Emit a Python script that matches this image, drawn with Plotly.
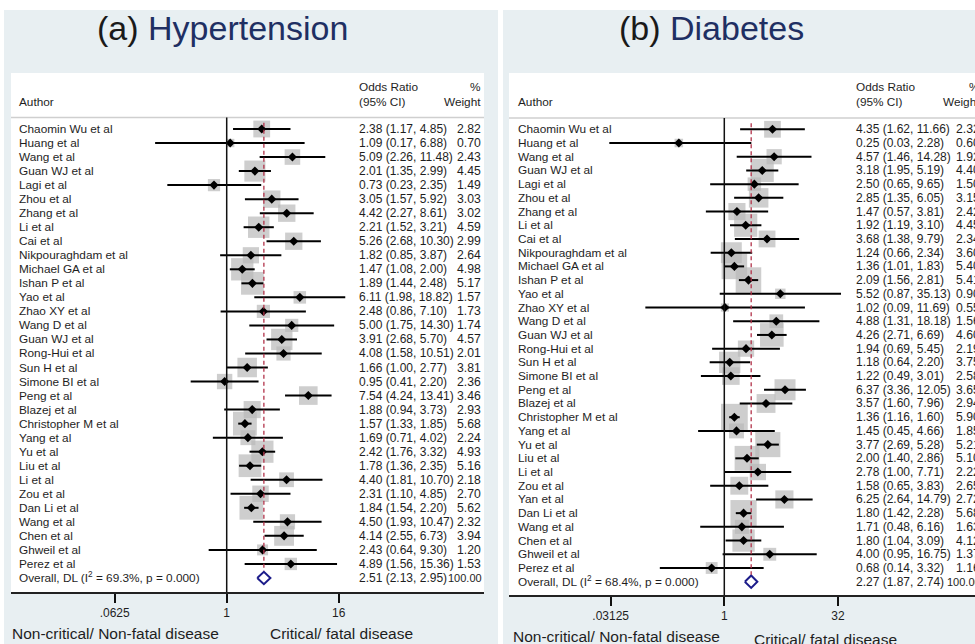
import plotly.graph_objects as go
import math

# ---------------- DATA ----------------
ht_authors = ["Chaomin Wu et al", "Huang et al", "Wang et al", "Guan WJ et al", "Lagi et al",
              "Zhou et al", "Zhang et al", "Li et al", "Cai et al", "Nikpouraghdam et al",
              "Michael GA et al", "Ishan P et al", "Yao et al", "Zhao XY et al", "Wang D et al",
              "Guan WJ et al", "Rong-Hui et al", "Sun H et al", "Simone BI et al", "Peng et al",
              "Blazej et al", "Christopher M et al", "Yang et al", "Yu et al", "Liu et al",
              "Li et al", "Zou et al", "Dan Li et al", "Wang et al", "Chen et al",
              "Ghweil et al", "Perez et al"]
ht_or = [2.38, 1.09, 5.09, 2.01, 0.73, 3.05, 4.42, 2.21, 5.26, 1.82, 1.47, 1.89, 6.11, 2.48, 5.00,
         3.91, 4.08, 1.66, 0.95, 7.54, 1.88, 1.57, 1.69, 2.42, 1.78, 4.40, 2.31, 1.84, 4.50, 4.14,
         2.43, 4.89]
ht_lo = [1.17, 0.17, 2.26, 1.35, 0.23, 1.57, 2.27, 1.52, 2.68, 0.85, 1.08, 1.44, 1.98, 0.86, 1.75,
         2.68, 1.58, 1.00, 0.41, 4.24, 0.94, 1.33, 0.71, 1.76, 1.36, 1.81, 1.10, 1.54, 1.93, 2.55,
         0.64, 1.56]
ht_hi = [4.85, 6.88, 11.48, 2.99, 2.35, 5.92, 8.61, 3.21, 10.30, 3.87, 2.00, 2.48, 18.82, 7.10, 14.30,
         5.70, 10.51, 2.77, 2.20, 13.41, 3.73, 1.85, 4.02, 3.32, 2.35, 10.70, 4.85, 2.20, 10.47, 6.73,
         9.30, 15.36]
ht_w = [2.82, 0.70, 2.43, 4.45, 1.49, 3.03, 3.02, 4.59, 2.99, 2.64, 4.98, 5.17, 1.57, 1.73, 1.74,
        4.57, 2.01, 3.81, 2.36, 3.46, 2.93, 5.68, 2.24, 4.93, 5.16, 2.18, 2.70, 5.62, 2.32, 3.94,
        1.20, 1.53]
ht_overall = {"label": "Overall, DL (I<sup>2</sup> = 69.3%, p = 0.000)", "or": 2.51, "lo": 2.13, "hi": 2.95}

dm_authors = ["Chaomin Wu et al", "Huang et al", "Wang et al", "Guan WJ et al", "Lagi et al",
              "Zhou et al", "Zhang et al", "Li et al", "Cai et al", "Nikpouraghdam et al",
              "Michael GA et al", "Ishan P et al", "Yao et al", "Zhao XY et al", "Wang D et al",
              "Guan WJ et al", "Rong-Hui et al", "Sun H et al", "Simone BI et al", "Peng et al",
              "Blazej et al", "Christopher M et al", "Yang et al", "Yu et al", "Liu et al",
              "Li et al", "Zou et al", "Yan et al", "Dan Li et al", "Wang et al", "Chen et al",
              "Ghweil et al", "Perez et al"]
dm_or = [4.35, 0.25, 4.57, 3.18, 2.50, 2.85, 1.47, 1.92, 3.68, 1.24, 1.36, 2.09, 5.52, 1.02, 4.88,
         4.26, 1.94, 1.18, 1.22, 6.37, 3.57, 1.36, 1.45, 3.77, 2.00, 2.78, 1.58, 6.25, 1.80, 1.71,
         1.80, 4.00, 0.68]
dm_lo = [1.62, 0.03, 1.46, 1.95, 0.65, 1.35, 0.57, 1.19, 1.38, 0.66, 1.01, 1.56, 0.87, 0.09, 1.31,
         2.71, 0.69, 0.64, 0.49, 3.36, 1.60, 1.16, 0.45, 2.69, 1.40, 1.00, 0.65, 2.64, 1.42, 0.48,
         1.04, 0.95, 0.14]
dm_hi = [11.66, 2.28, 14.28, 5.19, 9.65, 6.05, 3.81, 3.10, 9.79, 2.34, 1.83, 2.81, 35.13, 11.69, 18.18,
         6.69, 5.45, 2.20, 3.01, 12.05, 7.96, 1.60, 4.66, 5.28, 2.86, 7.71, 3.83, 14.79, 2.28, 6.16,
         3.09, 16.75, 3.32]
dm_w = [2.32, 0.60, 1.92, 4.40, 1.50, 3.15, 2.42, 4.45, 2.34, 3.60, 5.40, 5.41, 0.90, 0.55, 1.56,
        4.60, 2.19, 3.75, 2.58, 3.65, 2.94, 5.90, 1.85, 5.21, 5.10, 2.22, 2.65, 2.72, 5.68, 1.63,
        4.12, 1.37, 1.16]
dm_overall = {"label": "Overall, DL (I<sup>2</sup> = 68.4%, p = 0.000)", "or": 2.27, "lo": 1.87, "hi": 2.74}

ht_ticks = [0.0625, 1, 16]
ht_ticktext = [".0625", "1", "16"]
dm_ticks = [0.03125, 1, 32]
dm_ticktext = [".03125", "1", "32"]

# ---------------- STYLE ----------------
W, H = 975, 644
FONT = "Liberation Sans, Arial, sans-serif"
TXT = "#1e1e1e"
NAVY = "#1f2f63"
BG = "#e8eff2"
BOXC = "#b9b9b9"
RED = "#b2334a"

def px(x):
    return x / W

def py(y):
    return 1 - y / H

fig = go.Figure()
shapes = []
annotations = []

# panel backgrounds (blue-gray) then white plotting areas
for x0, x1 in [(4, 498), (503, 990)]:
    shapes.append(dict(type="rect", xref="paper", yref="paper", x0=px(x0), x1=px(x1),
                       y0=py(644), y1=py(10), fillcolor=BG, line=dict(width=0), layer="below"))

panels = [
    dict(authors=ht_authors, orv=ht_or, lo=ht_lo, hi=ht_hi, w=ht_w, ov=ht_overall,
         xa="x", ya="y", xaxis="xaxis", yaxis="yaxis",
         white=(11, 484, 73, 592), row0=129.0, dy=14.03, ppl=28.0, x1px=226.7,
         boxk=10.0, name_x=17, ci_x=357, w_x=483, sep_y=117.5,
         ticks=ht_ticks, ticktext=ht_ticktext,
         title=("(a)", "Hypertension"), title_x=222,
         lab_left=(10, 633), lab_right=(268, 633)),
    dict(authors=dm_authors, orv=dm_or, lo=dm_lo, hi=dm_hi, w=dm_w, ov=dm_overall,
         xa="x2", ya="y2", xaxis="xaxis2", yaxis="yaxis2",
         white=(509, 990, 73, 595), row0=129.3, dy=13.709, ppl=22.73, x1px=724.3,
         boxk=11.0, name_x=515.7, ci_x=854, w_x=982, sep_y=118,
         ticks=dm_ticks, ticktext=dm_ticktext,
         title=("(b)", "Diabetes"), title_x=711,
         lab_left=(511, 636), lab_right=(752, 639)),
]

for p in panels:
    wx0, wx1, wy0, wy1 = p["white"]
    shapes.append(dict(type="rect", xref="paper", yref="paper", x0=px(wx0), x1=px(wx1),
                       y0=py(wy1), y1=py(wy0), fillcolor="white", line=dict(width=0), layer="below"))
    # header separator
    shapes.append(dict(type="line", xref="paper", yref="paper", x0=px(wx0), x1=px(min(wx1, 975)),
                       y0=py(p["sep_y"]), y1=py(p["sep_y"]), line=dict(color="#cfcfcf", width=1.5),
                       layer="below"))

    n = len(p["authors"])
    rows = list(range(n))
    ov_row = n

    # axis ranges derived from pixel geometry
    dx_right = min(wx1, 975)
    xr = [math.log10(2) * (wx0 - p["x1px"]) / p["ppl"], math.log10(2) * (dx_right - p["x1px"]) / p["ppl"]]
    yr = [(wy1 - p["row0"]) / p["dy"], (wy0 - p["row0"]) / p["dy"]]

    fig.update_layout(**{
        p["xaxis"]: dict(domain=[px(wx0), px(dx_right)], type="log", range=xr,
                         tickvals=p["ticks"], ticktext=p["ticktext"], ticks="outside",
                         ticklen=9, tickwidth=1.5, tickcolor="#111", showline=True,
                         linecolor="#222", linewidth=1.5, showgrid=False, zeroline=False,
                         anchor=p["ya"], tickfont=dict(family=FONT, size=12, color=TXT),
                         fixedrange=True),
        p["yaxis"]: dict(domain=[py(wy1), py(wy0)], range=yr, showticklabels=False,
                         showgrid=False, zeroline=False, showline=False, anchor=p["xa"],
                         fixedrange=True),
    })

    # reference lines
    shapes.append(dict(type="line", xref=p["xa"], yref=p["ya"], x0=1, x1=1,
                       y0=(p["sep_y"] - p["row0"]) / p["dy"], y1=yr[0],
                       line=dict(color="#111", width=1.5)))
    shapes.append(dict(type="line", xref=p["xa"], yref=p["ya"], x0=p["ov"]["or"], x1=p["ov"]["or"],
                       y0=-0.45, y1=ov_row - 0.5, line=dict(color=RED, width=1.3, dash="4px,3px")))

    # weight boxes
    fig.add_trace(go.Scatter(x=p["orv"], y=rows, mode="markers", xaxis=p["xa"], yaxis=p["ya"],
                             marker=dict(symbol="square", color=BOXC,
                                         size=[p["boxk"] * math.sqrt(w) for w in p["w"]],
                                         line=dict(width=0)),
                             hoverinfo="skip"))
    # CI lines
    cx, cy = [], []
    for i in rows:
        cx += [p["lo"][i], p["hi"][i], None]
        cy += [i, i, None]
    fig.add_trace(go.Scatter(x=cx, y=cy, mode="lines", xaxis=p["xa"], yaxis=p["ya"],
                             line=dict(color="black", width=2), hoverinfo="skip"))
    # point estimates
    fig.add_trace(go.Scatter(x=p["orv"], y=rows, mode="markers", xaxis=p["xa"], yaxis=p["ya"],
                             marker=dict(symbol="diamond", color="black", size=7, line=dict(width=0)),
                             hoverinfo="skip"))
    # overall diamond
    ov = p["ov"]
    h = 6.2 / p["dy"]
    fig.add_trace(go.Scatter(x=[ov["lo"], ov["or"], ov["hi"], ov["or"], ov["lo"]],
                             y=[ov_row, ov_row - h, ov_row, ov_row + h, ov_row],
                             mode="lines", xaxis=p["xa"], yaxis=p["ya"],
                             line=dict(color="#1c1c8a", width=2), hoverinfo="skip"))

    # text columns
    f = dict(family=FONT, size=11.8, color=TXT)
    fci = dict(family=FONT, size=12.0, color=TXT)
    fw = dict(family=FONT, size=12.2, color=TXT)
    for i in rows:
        annotations.append(dict(xref="paper", yref=p["ya"], x=px(p["name_x"]), y=i, text=p["authors"][i],
                                showarrow=False, xanchor="left", yanchor="middle", font=f))
        annotations.append(dict(xref="paper", yref=p["ya"], x=px(p["ci_x"]), y=i,
                                text=f"{p['orv'][i]:.2f} ({p['lo'][i]:.2f}, {p['hi'][i]:.2f})",
                                showarrow=False, xanchor="left", yanchor="middle", font=fci))
        annotations.append(dict(xref="paper", yref=p["ya"], x=px(p["w_x"]), y=i, text=f"{p['w'][i]:.2f}",
                                showarrow=False, xanchor="right", yanchor="middle", font=fw))
    annotations.append(dict(xref="paper", yref=p["ya"], x=px(p["name_x"]), y=ov_row, text=ov["label"],
                            showarrow=False, xanchor="left", yanchor="middle", font=f))
    annotations.append(dict(xref="paper", yref=p["ya"], x=px(p["ci_x"]), y=ov_row,
                            text=f"{ov['or']:.2f} ({ov['lo']:.2f}, {ov['hi']:.2f})",
                            showarrow=False, xanchor="left", yanchor="middle", font=fci))
    annotations.append(dict(xref="paper", yref=p["ya"], x=px(p["w_x"] + 1), y=ov_row, text="100.00",
                            showarrow=False, xanchor="right", yanchor="middle",
                            font=dict(family=FONT, size=11.0, color=TXT)))

    # headers
    for txt, xx, yy, anc in [("Author", p["name_x"], 102, "left"), ("Odds Ratio", p["ci_x"], 87, "left"),
                             ("(95% CI)", p["ci_x"], 101.5, "left"), ("%", p["w_x"], 87, "right"),
                             ("Weight", p["w_x"], 101.5, "right")]:
        annotations.append(dict(xref="paper", yref="paper", x=px(xx), y=py(yy), text=txt,
                                showarrow=False, xanchor=anc, yanchor="middle", font=f))

    # panel title
    annotations.append(dict(xref="paper", yref="paper", x=px(p["title_x"]), y=py(28),
                            text=f"<span style='color:#1a1a1a'>{p['title'][0]}</span> {p['title'][1]}",
                            showarrow=False, xanchor="center", yanchor="middle",
                            font=dict(family=FONT, size=34, color=NAVY)))

    # bottom direction labels
    bf = dict(family=FONT, size=15.5, color=TXT)
    annotations.append(dict(xref="paper", yref="paper", x=px(p["lab_left"][0]), y=py(p["lab_left"][1]),
                            text="Non-critical/ Non-fatal disease", showarrow=False,
                            xanchor="left", yanchor="middle", font=bf))
    annotations.append(dict(xref="paper", yref="paper", x=px(p["lab_right"][0]), y=py(p["lab_right"][1]),
                            text="Critical/ fatal disease", showarrow=False,
                            xanchor="left", yanchor="middle", font=bf))

fig.update_layout(width=W, height=H, margin=dict(l=0, r=0, t=0, b=0),
                  paper_bgcolor="white", plot_bgcolor="rgba(0,0,0,0)", showlegend=False,
                  shapes=shapes, annotations=annotations, font=dict(family=FONT, color=TXT))

fig.write_html("out.html", config={"displayModeBar": False},
               post_script="document.body.style.margin='0';document.body.style.overflow='hidden';")
